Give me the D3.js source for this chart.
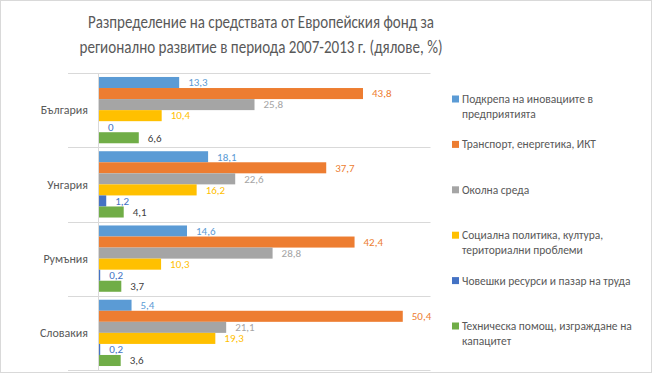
<!DOCTYPE html>
<html>
<head>
<meta charset="utf-8">
<script src="https://cdn.jsdelivr.net/npm/d3@7"></script>
<style>
  body { margin: 0; background: #fff; }
  svg { display: block; }
</style>
</head>
<body>
<div id="chart"></div>
<script>
// Chart data
const categories = ["България", "Унгария", "Румъния", "Словакия"];
const seriesNames = [
    ["Подкрепа на иновациите в", "предприятията"],
    ["Транспорт, енергетика, ИКТ"],
    ["Околна среда"],
    ["Социална политика, култура,", "териториални проблеми"],
    ["Човешки ресурси и пазар на труда"],
    ["Техническа помощ, изграждане на", "капацитет"]
];
const innovation = [13.3, 18.1, 14.6, 5.4];
const transport = [43.8, 37.7, 42.4, 50.4];
const environment = [25.8, 22.6, 28.8, 21.1];
const social = [10.4, 16.2, 10.3, 19.3];
const human = [0, 1.2, 0.2, 0.2];
const technical = [6.6, 4.1, 3.7, 3.6];
const seriesValues = [innovation, transport, environment, social, human, technical];
const colors = ["#5B9BD5", "#ED7D31", "#A5A5A5", "#FFC000", "#4472C4", "#70AD47"];
const labelColors = ["#5B9BD5", "#ED7D31", "#A5A5A5", "#FFC000", "#4472C4", "#404040"];
const titleLines = [
    "Разпределение на средствата от Европейския фонд за",
    "регионално развитие в периода 2007-2013 г. (дялове, %)"
];

const width = 652, height = 373;
const font = "Calibri, Carlito, 'Open Sans', sans-serif";

const svg = d3.select("#chart")
    .append("svg")
    .attr("width", width)
    .attr("height", height)
    .style("font-family", font);

// outer border
svg.append("rect")
    .attr("x", 0.5).attr("y", 0.5)
    .attr("width", width - 1).attr("height", height - 1)
    .attr("fill", "#fff")
    .attr("stroke", "#d9d9d9");

// title
const title = svg.append("g");
titleLines.forEach((t, i) => {
    const txt = title.append("text")
        .attr("x", 261)
        .attr("y", 22 + i * 25)
        .attr("dy", "0.35em")
        .attr("text-anchor", "middle")
        .attr("font-size", 18)
        .attr("fill", "#595959")
        .text(t);
    // keep the line width close to the original
    const target = i === 0 ? 346 : 363;
    const w = txt.node().getComputedTextLength();
    if (w > target) txt.attr("textLength", target).attr("lengthAdjust", "spacingAndGlyphs");
});

// scales
const x = d3.scaleLinear().domain([0, 55]).range([99, 430.5]);
const y = d3.scaleBand().domain(categories).range([73, 370]);
const inner = d3.scaleBand()
    .domain(d3.range(seriesNames.length))
    .range([0, y.bandwidth()])
    .paddingOuter(0.36);

// category separator lines
svg.append("g")
    .selectAll("line")
    .data(d3.range(categories.length + 1))
    .join("line")
    .attr("x1", 68).attr("x2", 430.5)
    .attr("y1", d => Math.round(73 + d * y.bandwidth()) + 0.5)
    .attr("y2", d => Math.round(73 + d * y.bandwidth()) + 0.5)
    .attr("stroke", "#d9d9d9");

// bars
const rows = [];
seriesValues.forEach((vals, s) => {
    vals.forEach((v, c) => rows.push({ s: s, cat: categories[c], v: v }));
});

svg.append("g")
    .selectAll("rect")
    .data(rows)
    .join("rect")
    .attr("x", x(0))
    .attr("y", d => y(d.cat) + inner(d.s))
    .attr("width", d => x(d.v) - x(0))
    .attr("height", inner.bandwidth())
    .attr("fill", d => colors[d.s]);

// value axis line (vertical)
svg.append("line")
    .attr("x1", x(0) - 0.5).attr("x2", x(0) - 0.5)
    .attr("y1", 73).attr("y2", 370)
    .attr("stroke", "#d9d9d9");

// data labels
svg.append("g")
    .selectAll("text")
    .data(rows)
    .join("text")
    .attr("x", d => x(d.v) + 9)
    .attr("y", d => y(d.cat) + inner(d.s) + inner.bandwidth() / 2)
    .attr("dy", "0.35em")
    .attr("font-size", 11)
    .attr("fill", d => labelColors[d.s])
    .text(d => String(d.v).replace(".", ","));

// category labels
svg.append("g")
    .selectAll("text")
    .data(categories)
    .join("text")
    .attr("x", 88)
    .attr("y", d => y(d) + y.bandwidth() / 2)
    .attr("dy", "0.35em")
    .attr("text-anchor", "end")
    .attr("font-size", 12)
    .attr("fill", "#595959")
    .text(d => d);

// legend
const legend = svg.append("g")
    .selectAll("g")
    .data(seriesNames)
    .join("g")
    .attr("transform", (d, i) => `translate(452, ${99 + i * 45.4})`);

legend.append("rect")
    .attr("x", 0).attr("y", -3.5)
    .attr("width", 7).attr("height", 7)
    .attr("fill", (d, i) => colors[i]);

legend.each(function (lines) {
    const g = d3.select(this);
    lines.forEach((t, j) => {
        g.append("text")
            .attr("x", 10)
            .attr("y", j * 15)
            .attr("dy", "0.35em")
            .attr("font-size", 11.5)
            .attr("fill", "#595959")
            .text(t);
    });
});
</script>
</body>
</html>
